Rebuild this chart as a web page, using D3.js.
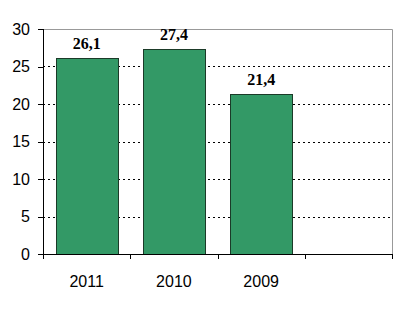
<!DOCTYPE html>
<html lang="en">
<head>
    <meta charset="UTF-8">
    <title>Chart</title>
    <style>
        body { margin: 0; background: #fff; }
        .axis text { font-family: Arial, "Liberation Sans", sans-serif; font-size: 16px; fill: #000; }
        .axis path, .axis line { stroke: #000; shape-rendering: crispEdges; }
        .grid line { stroke: #000; stroke-dasharray: 2,3; shape-rendering: crispEdges; }
        .bar { fill: #339966; stroke: #1b3a28; stroke-width: 1; shape-rendering: crispEdges; }
        .lbl { font-family: "Liberation Serif", "Times New Roman", serif; font-size: 16px; font-weight: bold; fill: #000; }
    </style>
</head>
<body>
<div id="sv"></div>
<script src="https://d3js.org/d3.v7.min.js"></script>
<script>
    var categories = ["2011", "2010", "2009", ""];
    var values = [26.1, 27.4, 21.4, null];
    var valueLabels = ["26,1", "27,4", "21,4", ""];
    var yTicks = [0, 5, 10, 15, 20, 25, 30];

    var outerWidth = 417,
        outerHeight = 319,
        margin = {top: 29, right: 25, bottom: 65, left: 43},
        width = outerWidth - margin.left - margin.right,
        height = outerHeight - margin.top - margin.bottom;

    var svg = d3.select("#sv").append("svg")
        .attr("width", outerWidth)
        .attr("height", outerHeight)
        .append("g")
        .attr("transform", `translate(${margin.left},${margin.top})`);

    var x = d3.scaleBand().domain(d3.range(categories.length)).range([0, width])
        .paddingInner(0.29).paddingOuter(0.145);
    var xb = d3.scaleBand().domain(d3.range(categories.length)).range([0, width]);
    var y = d3.scaleLinear().domain([0, 30]).range([height, 0]);

    // plot border (top + right)
    svg.append("path")
        .attr("d", `M0.5,0.5H${width + 0.5}V${height}`)
        .attr("fill", "none")
        .attr("stroke", "#999");

    // dotted gridlines
    svg.append("g").attr("class", "grid")
        .selectAll("line")
        .data(yTicks.filter(d => d > 0 && d < 30))
        .enter().append("line")
        .attr("x1", 0).attr("x2", width)
        .attr("y1", d => Math.round(y(d)) + 0.5)
        .attr("y2", d => Math.round(y(d)) + 0.5);

    // bars
    var data = values.map((v, i) => ({i: i, v: v, label: valueLabels[i]})).filter(d => d.v != null);
    svg.selectAll(".bar").data(data)
        .enter().append("rect")
        .attr("class", "bar")
        .attr("x", d => Math.round(x(d.i)) + 0.5)
        .attr("width", x.bandwidth())
        .attr("y", d => Math.round(y(d.v)) + 0.5)
        .attr("height", d => height - Math.round(y(d.v)));

    svg.selectAll(".lbl").data(data)
        .enter().append("text")
        .attr("class", "lbl")
        .attr("text-anchor", "middle")
        .attr("x", d => x(d.i) + x.bandwidth() / 2)
        .attr("y", d => y(d.v) - 9)
        .text(d => d.label);

    // y axis
    var yAxis = svg.append("g").attr("class", "axis")
        .call(d3.axisLeft(y).tickValues(yTicks).tickSize(5).tickPadding(8).tickSizeOuter(0));
    yAxis.select(".domain").attr("d", `M0.5,0V${height}`);

    // x axis: ticks at band boundaries
    var xg = svg.append("g").attr("class", "axis")
        .attr("transform", `translate(0,${height})`);
    xg.append("line").attr("x1", -5).attr("x2", width + 0.5).attr("y1", 0.5).attr("y2", 0.5);
    xg.selectAll(".tk").data(d3.range(categories.length + 1))
        .enter().append("line").attr("class", "tk")
        .attr("x1", d => Math.round(d < categories.length ? xb(d) : width) + 0.5)
        .attr("x2", d => Math.round(d < categories.length ? xb(d) : width) + 0.5)
        .attr("y1", 0).attr("y2", 5);
    xg.selectAll(".cl").data(categories)
        .enter().append("text").attr("class", "cl")
        .attr("text-anchor", "middle")
        .attr("x", (d, i) => xb(i) + xb.bandwidth() / 2)
        .attr("y", 33)
        .text(d => d);
</script>
</body>
</html>
